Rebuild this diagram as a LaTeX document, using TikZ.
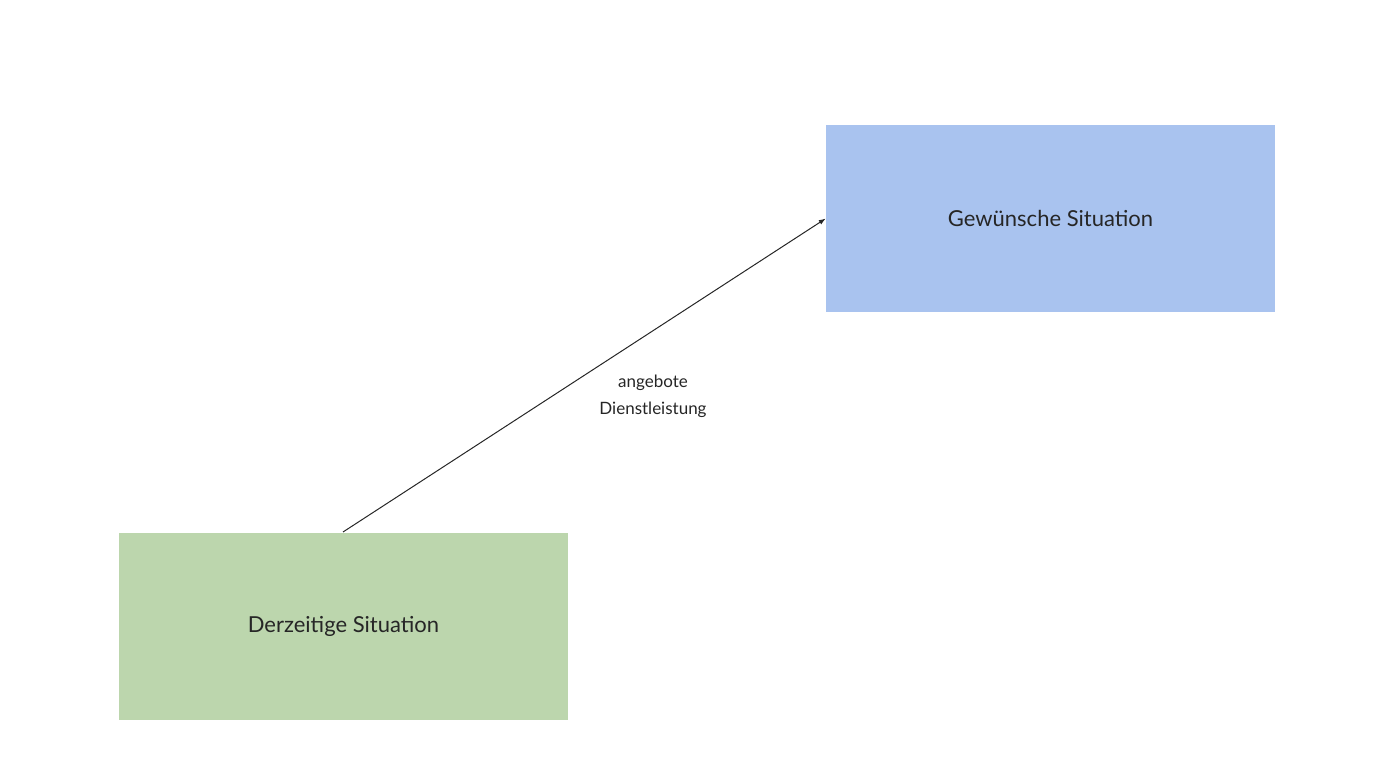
\documentclass[tikz,border=0pt]{standalone}
\usepackage{fontspec}
\setmainfont{Lato}
\usetikzlibrary{arrows.meta}
\definecolor{gr}{HTML}{BCD6AD}
\definecolor{bl}{HTML}{A9C3EF}
\begin{document}
\begin{tikzpicture}[x=1pt,y=-1pt,
  box/.style={draw=none,minimum width=449pt,minimum height=187pt,inner sep=0pt,font=\fontsize{22}{26}\selectfont,text=black!85}]
\useasboundingbox (0,0) rectangle (1392,784);
\node[box,fill=gr] (cur) at (343.5,626) {Derzeitige Situation};
\node[box,fill=bl] (des) at (1050.5,218.5) {Gewünsche Situation};
\coordinate (s) at (343,532);
\draw[-{Latex[length=7pt,width=5pt]},line width=1pt,black!85] (s) -- (des.west);
\node[align=center,font=\fontsize{17}{27}\selectfont,text=black!85] (lbl) at (653,396) {angebote\\Dienstleistung};
\end{tikzpicture}
\end{document}
